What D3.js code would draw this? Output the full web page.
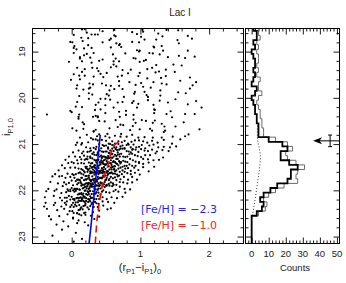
<!DOCTYPE html>
<html>
<head>
<meta charset="utf-8">
<script src="https://cdn.jsdelivr.net/npm/d3@7"></script>
<style>
    body { margin: 0; background: #fff; }
    svg { display: block; font-family: "Liberation Sans", Arial, sans-serif; }
</style>
</head>
<body>
<svg id="chart" width="346" height="283"></svg>
<script>
// ---- data ----
const colorTicks = [0, 1, 2];
const magTicks = [19, 20, 21, 22, 23];
const countTicks = [0, 10, 20, 30, 40, 50];

// histogram bins (0.1 mag, by bin centre)
const binCenters = [18.5, 18.6, 18.7, 18.8, 18.9, 19.0, 19.1, 19.2, 19.3, 19.4, 19.5, 19.6, 19.7, 19.8, 19.9,
    20.0, 20.1, 20.2, 20.3, 20.4, 20.5, 20.6, 20.7, 20.8, 20.9, 21.0, 21.1, 21.2, 21.3, 21.4, 21.5, 21.6,
    21.7, 21.8, 21.9, 22.0, 22.1, 22.2, 22.3, 22.4, 22.5, 22.6, 22.7, 22.8, 22.9, 23.0, 23.1];
const blackCounts = [1, 3, 3, 1, 2, 0, 1, 2, 2, 1, 2, 1, 0, 3, 2, 0, 1, 2, 2, 3, 3, 4, 4, 4, 10, 18, 21, 17,
    17, 22, 27, 23, 23, 21, 15, 11, 7, 5, 7, 6, 3, 0, 0, 0, 0, 0, 0];
const grayCounts = [2, 4, 5, 3, 4, 3, 4, 4, 3, 4, 3, 5, 4, 4, 6, 4, 3, 4, 5, 5, 6, 6, 7, 7, 14, 21, 24, 20,
    21, 26, 31, 27, 26, 27, 19, 14, 10, 7, 9, 8, 4, 0, 0, 0, 0, 0, 0];
const bgCounts = [3.4, 3.3, 3.4, 4.2, 5.0, 5.2, 4.6, 3.6, 2.6, 1.6, 0.7, 0.1];
const bgMags = [20.6, 20.8, 20.9, 21.05, 21.2, 21.3, 21.55, 21.8, 22.05, 22.3, 22.5, 22.62];

// isochrones: colour, magnitude
const isoPoorColor = [0.253, 0.300, 0.335, 0.375, 0.416];
const isoPoorMag = [23.15, 22.5, 21.96, 21.4, 20.8];
const isoRichColor = [0.343, 0.372, 0.416, 0.479, 0.528, 0.576, 0.620, 0.670, 0.700];
const isoRichMag = [23.15, 22.6, 22.14, 21.67, 21.46, 21.17, 21.02, 20.97, 20.96];

// TRGB marker
const trgbCount = 36, trgbMag = 20.93, trgbErr = 0.125, trgbBarCount = 46;

// stars: "colour*100 (mag-18)*100"
const fieldStars = "2 51,19 51,22 59,45 56,62 53,88 58,104 57,103 53,138 53,155 54,15 52," +
    "3 64,29 63,34 63,64 67,62 65,95 62,101 68,126 61,132 67,169 66,38 63," +
    "-2 79,16 77,24 71,55 75,57 72,88 79,106 74,123 74,154 75,175 72,14 70," +
    "4 88,24 86,45 80,65 82,69 86,98 80,119 89,131 88,156 82,1 80,70 84," +
    "3 92,18 93,29 92,57 91,72 90,95 97,99 98,120 91,133 98,169 98,7 95," +
    "3 103,18 108,32 103,60 106,78 104,98 100,113 103,118 104,128 106,156 109,22 105," +
    "12 115,12 112,27 113,45 117,64 115,93 115,90 114,108 118,140 112,165 114,179 111," +
    "15 121,29 124,40 120,61 128,69 121,99 122,105 120,123 129,148 128,-4 122,61 121," +
    "8 135,30 135,37 136,57 134,65 132,86 139,110 138,117 135,137 139,160 130,19 138," +
    "3 149,15 144,39 142,42 148,74 140,82 147,99 146,122 145,127 143,150 144,51 146," +
    "19 152,32 154,46 155,67 154,73 152,97 153,110 158,130 157,137 153,172 156,11 152," +
    "-1 161,12 160,26 169,44 169,69 164,84 166,101 168,119 166,131 169,158 163,181 166," +
    "8 173,27 178,31 171,57 174,69 174,93 172,104 176,115 178,138 171,176 173,50 173," +
    "7 180,17 182,25 180,55 184,62 181,74 181,92 187,106 187,129 184,155 188,172 180," +
    "11 196,25 190,30 193,54 195,76 198,91 191,109 194,111 198,129 195,166 190,51 192," +
    "8 209,25 202,42 202,49 202,56 204,74 209,90 207,111 205,128 206,151 203,181 207," +
    "6 219,35 215,39 210,49 216,67 210,88 211,97 213,119 215,140 210,169 214,-36 236," +
    "-2 228,15 220,34 226,42 225,61 221,79 228,95 221,121 226,120 225,144 229,189 221," +
    "0 231,11 236,35 239,49 233,69 230,79 237,90 237,120 233,138 235,165 235,179 235," +
    "10 241,10 245,38 240,38 242,64 248,70 241,90 247,102 248,121 249,146 242,31 241," +
    "18 257,16 253,40 250,48 251,71 258,93 254,108 250,118 254,131 256,163 253,75 259," +
    "1 266,17 267,35 269,55 266,67 263,89 261,99 268,114 267,135 262,151 262,186 268," +
    "7 271,32 272,40 279,52 278,72 278,85 270,117 271,134 274,136 271,170 279,32 273";

const rgbStars = "12 286,28 287,37 283,49 283,55 286,63 282,71 284,80 284,88 280,97 286,106 285,118 286,131 286,147 284,165 283,22 280," +
    "15 298,24 296,31 290,38 292,44 291,50 293,54 299,59 294,63 299,68 294,73 296,77 293,82 299,87 295,92 292,98 292,104 294,110 297,117 293,125 297,134 291,146 299,158 290,8 297,35 290," +
    "6 302,14 301,21 307,27 309,32 308,36 306,40 300,43 309,47 304,50 303,53 307,56 300,59 302,62 307,65 307,68 300,71 305,74 303,77 309,80 302,83 301,86 307,90 301,94 307,98 306,102 302,107 309,113 303,119 301,126 307,134 306,143 307,152 305,45 302,61 303," +
    "2 318,10 314,17 316,23 317,28 314,32 318,35 311,38 318,41 314,44 316,46 317,49 316,51 316,54 319,56 314,59 310,61 315,64 311,66 313,69 312,71 310,74 310,77 310,80 315,83 316,86 318,89 311,93 312,97 317,101 311,106 314,111 315,117 312,124 316,132 313,141 315,26 316,53 310,67 318,88 312," +
    "-4 327,5 327,12 328,18 325,23 327,27 327,30 321,33 323,36 324,39 322,41 327,43 325,45 327,47 327,49 328,51 329,53 326,55 320,57 329,59 321,61 327,63 323,65 326,67 323,70 327,72 321,75 327,78 328,81 327,84 322,88 321,92 324,96 326,101 328,107 324,114 324,122 320,133 329,15 320,38 321,58 322,69 322," +
    "-9 334,0 339,8 335,14 333,19 334,23 333,27 330,30 331,33 334,35 336,37 335,39 334,41 339,43 335,45 338,47 335,49 333,51 337,53 331,55 330,57 335,59 330,61 337,63 339,65 332,67 332,69 337,72 339,75 336,78 338,81 339,85 332,89 335,93 338,98 339,104 332,111 333,119 335,127 334,21 332,44 330,52 331,60 339,70 339,36 335," +
    "-14 346,-5 341,3 341,9 342,14 341,18 342,22 349,25 340,28 342,30 341,32 349,34 346,36 340,38 348,40 346,42 344,44 340,46 343,48 344,50 344,52 341,54 348,56 341,58 345,60 349,62 348,64 341,66 343,68 346,71 342,74 349,77 347,80 347,84 344,88 347,93 347,98 341,104 343,112 340,120 349,20 349,33 346,41 340,49 345,57 341,63 348,27 347,45 340," +
    "-19 357,-10 352,-2 351,5 351,10 353,14 354,18 359,21 352,24 356,27 359,29 351,31 355,33 358,35 353,37 357,39 352,41 359,43 357,45 358,47 350,49 354,51 359,53 359,55 355,57 351,59 350,61 355,63 359,65 357,68 353,71 351,74 357,78 353,82 352,86 358,91 351,97 356,104 350,112 359,16 356,26 353,34 351,40 358,46 355,52 359,58 355,30 350,44 352,62 354,23 354," +
    "-24 365,-14 369,-6 364,1 365,6 365,10 363,14 364,17 366,20 369,23 360,25 368,27 363,29 360,31 362,33 366,35 364,37 362,39 365,41 362,43 362,45 363,47 360,49 368,51 362,53 365,55 363,57 363,60 364,63 364,66 366,69 368,73 365,77 360,81 363,86 365,92 362,99 366,12 361,22 369,28 363,34 361,40 361,46 368,52 368,58 361,3 367,19 361,36 360,48 361,70 360," +
    "-28 370,-18 370,-9 373,-2 371,4 373,8 377,12 378,15 373,18 378,21 377,23 375,25 372,27 378,29 378,31 376,33 375,35 378,37 377,39 375,41 373,43 373,45 372,47 370,49 378,51 373,54 378,57 371,60 374,63 372,67 370,71 376,76 371,82 377,88 371,95 377,10 377,20 376,26 376,32 379,38 371,44 374,50 377,14 373,30 370,42 373,55 375,0 379,65 378," +
    "-31 382,-20 385,-11 383,-4 384,2 389,6 380,10 384,13 382,16 388,19 387,21 385,23 385,25 384,27 386,29 388,31 387,33 383,35 381,37 381,39 385,41 389,43 385,45 386,48 382,51 388,54 386,57 383,61 388,65 388,70 382,75 383,81 385,88 383,8 387,18 388,24 387,30 385,36 389,42 383,47 387,14 385,28 381,40 389,60 385,-8 387," +
    "-34 397,-22 398,-13 391,-6 398,0 395,4 397,8 397,11 398,14 390,17 395,19 393,21 392,23 391,25 397,27 391,29 392,31 392,33 396,35 398,37 390,39 396,42 396,45 391,48 393,51 390,55 390,59 391,64 399,70 392,77 397,85 398,6 397,16 396,22 396,28 391,34 391,40 391,12 399,26 395,38 399,50 390,-2 399," +
    "-37 402,-25 401,-15 406,-8 404,-2 402,2 400,6 401,9 409,12 408,15 409,17 407,19 401,21 408,23 402,25 408,27 401,29 408,31 402,33 408,36 404,39 405,42 409,46 400,50 404,55 405,61 402,68 403,78 405,4 403,14 406,20 400,26 402,32 408,11 407,24 404,35 407,-5 401,44 403," +
    "-39 415,-26 412,-17 416,-10 416,-4 412,0 414,4 419,7 417,10 417,13 415,15 417,17 412,19 414,21 417,23 410,25 419,27 413,30 416,33 419,36 419,40 419,45 415,51 419,58 415,66 417,74 414,2 419,12 416,18 416,24 419,8 416,28 417,-7 416,38 412," +
    "-38 427,-24 427,-14 422,-7 424,-2 420,2 427,6 426,9 426,12 423,15 420,17 423,19 425,21 423,24 425,27 424,30 427,34 425,39 429,45 424,53 425,62 427,4 421,14 423,20 428,10 422,26 421,-10 427,36 428," +
    "-40 435,-26 432,-15 435,-8 431,-2 436,3 436,7 434,11 432,14 437,17 434,20 432,23 437,27 434,32 436,38 436,46 433,57 439,5 431,13 439,19 433,0 432,29 430," +
    "-36 440,-21 443,-11 440,-3 445,3 449,8 449,12 442,16 441,20 448,25 441,31 447,40 444,52 441,10 443,1 445,18 449," +
    "-33 456,-18 456,-6 452,2 459,8 450,14 454,20 453,28 455,40 457,11 452," +
    "-30 463,-12 467,2 461,10 465,19 469,33 462,-22 474,-5 478,8 471,24 476," +
    "-14 485,6 492,-28 498,15 505,3 511";

// ---- layout ----
const L1 = 32.5, R1 = 243.5, L2 = 245.5, R2 = 339.5, T = 28.5, B = 243.5;

const x = d3.scaleLinear().domain([-0.57, 2.5]).range([L1, R1]);
const y = d3.scaleLinear().domain([18.5, 23.15]).range([T, B]);
const xc = d3.scaleLinear().domain([-3.6, 51.5]).range([L2, R2]);

const svg = d3.select('#chart');

const defs = svg.append('defs');
defs.append('clipPath').attr('id', 'clipL')
    .append('rect').attr('x', L1).attr('y', T).attr('width', R1 - L1).attr('height', B - T);
defs.append('clipPath').attr('id', 'clipR')
    .append('rect').attr('x', L2).attr('y', T).attr('width', R2 - L2).attr('height', B - T);

const parseStars = s => s.split(',').map(p => {
    const v = p.trim().split(/\s+/).map(Number);
    return { c: v[0] / 100, m: 18 + v[1] / 100 };
});
const stars = parseStars(fieldStars).concat(parseStars(rgbStars));

// stars
const body = svg.append('g').attr('clip-path', 'url(#clipL)');
body.selectAll('circle.star')
    .data(stars)
    .enter()
    .append('circle')
    .attr('class', 'star')
    .attr('cx', d => x(d.c))
    .attr('cy', d => y(d.m))
    .attr('r', 1.1)
    .attr('fill', '#000');

// isochrones
const isoLine = d3.line().x(d => x(d[0])).y(d => y(d[1])).curve(d3.curveCatmullRom);
body.append('path')
    .datum(isoPoorColor.map((c, i) => [c, isoPoorMag[i]]))
    .attr('d', isoLine)
    .attr('fill', 'none')
    .attr('stroke', '#0000ff')
    .attr('stroke-width', 1.6);
body.append('path')
    .datum(isoRichColor.map((c, i) => [c, isoRichMag[i]]))
    .attr('d', isoLine)
    .attr('fill', 'none')
    .attr('stroke', '#ff0000')
    .attr('stroke-width', 1.6)
    .attr('stroke-dasharray', '7,4');

// legend
svg.append('text')
    .attr('x', 141).attr('y', 213)
    .style('font-family', '"DejaVu Sans", sans-serif')
    .style('font-size', '11px')
    .attr('fill', '#1f1fff')
    .text('[Fe/H] = \u22122.3');
svg.append('text')
    .attr('x', 141).attr('y', 229)
    .style('font-family', '"DejaVu Sans", sans-serif')
    .style('font-size', '11px')
    .attr('fill', '#ff2020')
    .text('[Fe/H] = \u22121.0');

// histograms
const stepPoints = counts => {
    const pts = [];
    binCenters.forEach((m, i) => {
        pts.push([counts[i], m - 0.05]);
        pts.push([counts[i], m + 0.05]);
    });
    return pts;
};
const histLine = d3.line().x(d => xc(d[0])).y(d => y(d[1]));
const hist = svg.append('g').attr('clip-path', 'url(#clipR)');

hist.append('path')
    .datum(bgCounts.map((c, i) => [c, bgMags[i]]))
    .attr('d', histLine)
    .attr('fill', 'none')
    .attr('stroke', '#000')
    .attr('stroke-width', 0.8)
    .attr('stroke-dasharray', '1,2');

hist.append('path')
    .datum(stepPoints(grayCounts))
    .attr('d', histLine)
    .attr('fill', 'none')
    .attr('stroke', '#6a6a6a')
    .attr('stroke-width', 1);

hist.append('path')
    .datum(stepPoints(blackCounts))
    .attr('d', histLine)
    .attr('fill', 'none')
    .attr('stroke', '#000')
    .attr('stroke-width', 1.8);

// TRGB arrow with error bar
const ay = y(trgbMag);
const ax = xc(trgbCount);
hist.append('line')
    .attr('x1', ax + 5).attr('x2', R2).attr('y1', ay).attr('y2', ay)
    .attr('stroke', '#000').attr('stroke-width', 1);
hist.append('path')
    .attr('d', `M${ax},${ay} L${ax + 9},${ay - 3.5} L${ax + 6.5},${ay} L${ax + 9},${ay + 3.5} Z`)
    .attr('fill', '#000');
const bx = xc(trgbBarCount);
hist.append('line')
    .attr('x1', bx).attr('x2', bx)
    .attr('y1', y(trgbMag - trgbErr)).attr('y2', y(trgbMag + trgbErr))
    .attr('stroke', '#000').attr('stroke-width', 1);
[trgbMag - trgbErr, trgbMag + trgbErr].forEach(m => {
    hist.append('line')
        .attr('x1', bx - 2).attr('x2', bx + 2)
        .attr('y1', y(m)).attr('y2', y(m))
        .attr('stroke', '#000').attr('stroke-width', 1);
});

// ---- axes (inward ticks on every side) ----
const magMinor = d3.range(18.6, 23.15, 0.2).filter(v => Math.abs(v - Math.round(v)) > 0.01);
const colMinor = d3.range(-0.4, 2.5, 0.2).filter(v => Math.abs(v - Math.round(v)) > 0.01);
const cntMinor = d3.range(-2, 51.5, 2).filter(v => v % 10 !== 0);

function tickAxis(axisFn, scale, values, size, transform) {
    const g = svg.append('g')
        .attr('transform', transform)
        .call(axisFn(scale).tickValues(values).tickSize(size).tickFormat(''));
    g.select('.domain').remove();
    g.selectAll('line').attr('stroke', '#000').attr('stroke-width', 0.9);
}

// left panel
tickAxis(d3.axisLeft, y, magTicks, -6, `translate(${L1},0)`);
tickAxis(d3.axisLeft, y, magMinor, -3, `translate(${L1},0)`);
tickAxis(d3.axisRight, y, magTicks, -6, `translate(${R1},0)`);
tickAxis(d3.axisRight, y, magMinor, -3, `translate(${R1},0)`);
tickAxis(d3.axisBottom, x, colorTicks, -6, `translate(0,${B})`);
tickAxis(d3.axisBottom, x, colMinor, -3, `translate(0,${B})`);
tickAxis(d3.axisTop, x, colorTicks, -6, `translate(0,${T})`);
tickAxis(d3.axisTop, x, colMinor, -3, `translate(0,${T})`);

// right panel
tickAxis(d3.axisLeft, y, magTicks, -6, `translate(${L2},0)`);
tickAxis(d3.axisLeft, y, magMinor, -3, `translate(${L2},0)`);
tickAxis(d3.axisRight, y, magTicks, -6, `translate(${R2},0)`);
tickAxis(d3.axisRight, y, magMinor, -3, `translate(${R2},0)`);
tickAxis(d3.axisBottom, xc, countTicks, -6, `translate(0,${B})`);
tickAxis(d3.axisBottom, xc, cntMinor, -3, `translate(0,${B})`);
tickAxis(d3.axisTop, xc, countTicks, -6, `translate(0,${T})`);
tickAxis(d3.axisTop, xc, cntMinor, -3, `translate(0,${T})`);

// frames
[[L1, R1], [L2, R2]].forEach(([a, b]) => {
    svg.append('rect')
        .attr('x', a).attr('y', T).attr('width', b - a).attr('height', B - T)
        .attr('fill', 'none').attr('stroke', '#000').attr('stroke-width', 1);
});

// tick labels
const labelColor = '#222';
svg.selectAll('text.ylab')
    .data(magTicks)
    .enter()
    .append('text')
    .attr('class', 'ylab')
    .attr('transform', d => `translate(25,${y(d)}) rotate(-90)`)
    .attr('text-anchor', 'middle')
    .style('font-size', '9.5px')
    .attr('fill', labelColor)
    .text(d => d);

svg.selectAll('text.xlab')
    .data(colorTicks)
    .enter()
    .append('text')
    .attr('class', 'xlab')
    .attr('x', d => x(d)).attr('y', 257)
    .attr('text-anchor', 'middle')
    .style('font-size', '9.5px')
    .attr('fill', labelColor)
    .text(d => d);

svg.selectAll('text.clab')
    .data(countTicks)
    .enter()
    .append('text')
    .attr('class', 'clab')
    .attr('x', d => xc(d)).attr('y', 257)
    .attr('text-anchor', 'middle')
    .style('font-size', '9.5px')
    .attr('fill', labelColor)
    .text(d => d);

// axis titles
svg.append('text')
    .attr('x', 180).attr('y', 16)
    .attr('text-anchor', 'middle')
    .style('font-size', '10px')
    .attr('fill', labelColor)
    .text('Lac I');

const xt = svg.append('text')
    .attr('x', 140).attr('y', 271)
    .attr('text-anchor', 'middle')
    .style('font-size', '11px')
    .attr('fill', labelColor);
xt.append('tspan').text('(r');
xt.append('tspan').attr('dy', 2.5).style('font-size', '7.5px').text('P1');
xt.append('tspan').attr('dy', -2.5).text('\u2212i');
xt.append('tspan').attr('dy', 2.5).style('font-size', '7.5px').text('P1');
xt.append('tspan').attr('dy', -2.5).text(')');
xt.append('tspan').attr('dy', 2.5).style('font-size', '7.5px').text('0');

const yt = svg.append('text')
    .attr('transform', 'translate(10,127) rotate(-90)')
    .attr('text-anchor', 'middle')
    .style('font-size', '11px')
    .attr('fill', labelColor);
yt.append('tspan').text('i');
yt.append('tspan').attr('dy', 2.5).style('font-size', '7.5px').text('P1,0');

svg.append('text')
    .attr('x', 295).attr('y', 271)
    .attr('text-anchor', 'middle')
    .style('font-size', '9.5px')
    .attr('fill', labelColor)
    .text('Counts');
</script>
</body>
</html>
